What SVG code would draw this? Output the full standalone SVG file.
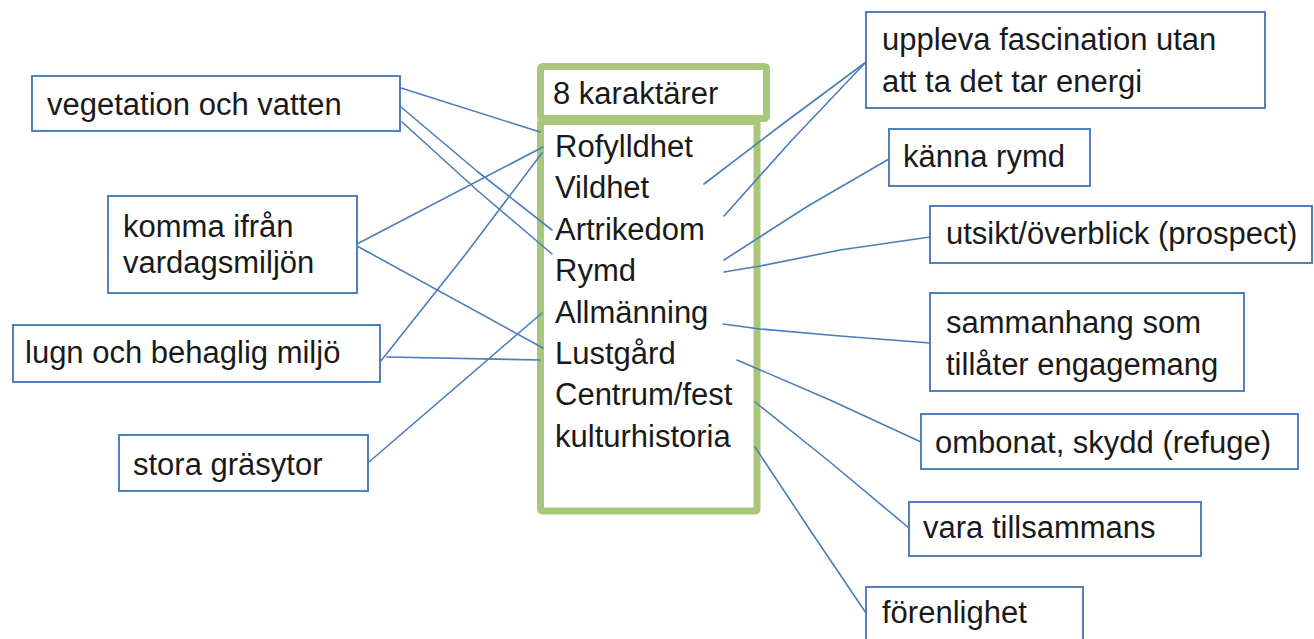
<svg xmlns="http://www.w3.org/2000/svg" width="1314" height="639" viewBox="0 0 1314 639">
<style>
.box{fill:#fff;stroke:#4f81bd;stroke-width:2}
.grn{fill:#fff;stroke:#a9c77a;stroke-width:7}
.t{font-family:"Liberation Sans",Arial,sans-serif;font-size:31px;fill:#1a1a1a}
.c{fill:none;stroke:#4a7ebb;stroke-width:1.6;stroke-linejoin:round;stroke-linecap:round}
</style>
<rect width="1314" height="639" fill="#fff"/>
<g id="characters">
<rect class="grn" x="540.5" y="66.5" width="226" height="52" rx="2"/>
<rect class="grn" x="540.5" y="121.5" width="216.5" height="389.5" rx="2"/>
<text class="t" x="553" y="104">8 karaktärer</text>
<text class="t" x="555" y="157">Rofylldhet</text>
<text class="t" x="555" y="198">Vildhet</text>
<text class="t" x="555" y="240">Artrikedom</text>
<text class="t" x="555" y="281">Rymd</text>
<text class="t" x="555" y="323">Allmänning</text>
<text class="t" x="555" y="364">Lustgård</text>
<text class="t" x="555" y="405">Centrum/fest</text>
<text class="t" x="555" y="447">kulturhistoria</text>
</g>
<g id="vegetation"><rect class="box" x="32" y="76" width="368" height="55"/><text class="t" x="47" y="115">vegetation och vatten</text></g>
<g id="komma"><rect class="box" x="108" y="196" width="249" height="97"/><text class="t" x="123" y="237">komma ifrån</text><text class="t" x="123" y="273">vardagsmiljön</text></g>
<g id="lugn"><rect class="box" x="13" y="325" width="367" height="57"/><text class="t" x="25" y="363">lugn och behaglig miljö</text></g>
<g id="stora"><rect class="box" x="119" y="435" width="249" height="56"/><text class="t" x="133" y="475">stora gräsytor</text></g>
<g id="uppleva"><rect class="box" x="866" y="12" width="399" height="96"/><text class="t" x="882" y="50">uppleva fascination utan</text><text class="t" x="882" y="92">att ta det tar energi</text></g>
<g id="kanna"><rect class="box" x="889" y="129" width="201" height="57"/><text class="t" x="903" y="167">känna rymd</text></g>
<g id="utsikt"><rect class="box" x="930" y="206" width="382" height="57"/><text class="t" x="946" y="244">utsikt/överblick (prospect)</text></g>
<g id="sammanhang"><rect class="box" x="930" y="293" width="314" height="98"/><text class="t" x="946" y="333">sammanhang som</text><text class="t" x="946" y="375">tillåter engagemang</text></g>
<g id="ombonat"><rect class="box" x="921" y="414" width="377" height="55"/><text class="t" x="935" y="453">ombonat, skydd (refuge)</text></g>
<g id="vara"><rect class="box" x="909" y="502" width="292" height="54"/><text class="t" x="923" y="538">vara tillsammans</text></g>
<g id="forenlighet"><rect class="box" x="866" y="587" width="217" height="60"/><text class="t" x="882" y="623">förenlighet</text></g>
<g id="connectors">
<path class="c" d="M401,88 L540,132"/>
<path class="c" d="M401,107 L478,172 L552,230"/>
<path class="c" d="M402,122 L478,191 L552,254"/>
<path class="c" d="M357,244 L543,147"/>
<path class="c" d="M357,246 L543,348"/>
<path class="c" d="M380,362 L388,352 L465,255 L542,153"/>
<path class="c" d="M387,357 L540,360"/>
<path class="c" d="M369,462 L542,313"/>
<path class="c" d="M704,184 L780,126 L866,62"/>
<path class="c" d="M724,216 L792,140 L866,62"/>
<path class="c" d="M724,260 L808,206 L889,159"/>
<path class="c" d="M724,272 L760,266 L840,250 L930,237"/>
<path class="c" d="M723,324 L760,329 L840,336 L930,343"/>
<path class="c" d="M737,360 L830,400 L921,442"/>
<path class="c" d="M755,402 L830,462 L909,528"/>
<path class="c" d="M755,447 L810,530 L866,613"/>
</g>
</svg>
